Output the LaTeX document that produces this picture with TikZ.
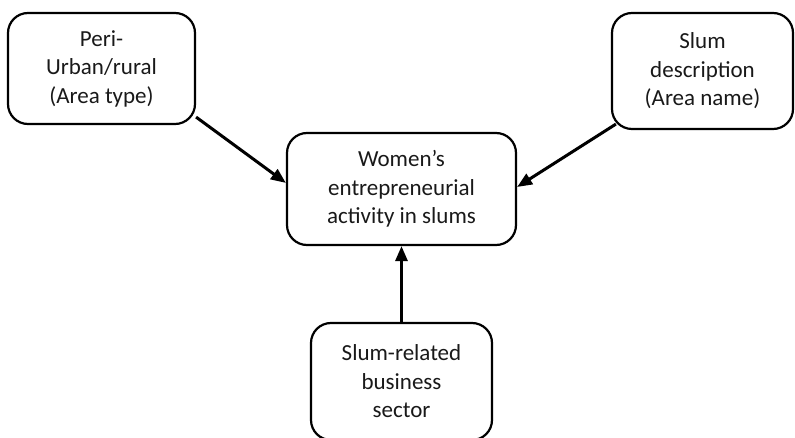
\documentclass[tikz,border=0pt]{standalone}
\usepackage{fontspec}
\setmainfont{Carlito}
\usetikzlibrary{arrows.meta,calc}
\begin{document}
\begin{tikzpicture}[
  box/.style={draw=black, line width=2.2pt, rounded corners=20pt, align=center,
    inner sep=0pt, font=\fontsize{23}{28.5}\selectfont, text=black!90},
  conn/.style={line width=3pt, -{Triangle[length=15pt,width=12pt]}}
]
\useasboundingbox (0,0) rectangle (795pt,-438pt);
\node[box, minimum width=187pt, minimum height=111pt] (tl) at (101.5pt,-68.5pt)
  {Peri-\\Urban/rural\\(Area type)};
\node[box, minimum width=181pt, minimum height=116pt] (tr) at (702.5pt,-71pt)
  {Slum\\description\\(Area name)};
\node[box, minimum width=229pt, minimum height=112pt] (ctr) at (401.5pt,-189pt)
  {Women’s\\entrepreneurial\\activity in slums};
\node[box, minimum width=181pt, minimum height=117pt] (bot) at (401.5pt,-381.5pt)
  {Slum-related\\business\\sector};
\draw[conn] ($(tl.south east)+(0,8pt)$) -- (ctr.177);
\draw[conn] ($(tr.south west)+(5pt,6pt)$) -- (ctr.1);
\draw[conn] (bot.north) -- (ctr.south);
\end{tikzpicture}
\end{document}
